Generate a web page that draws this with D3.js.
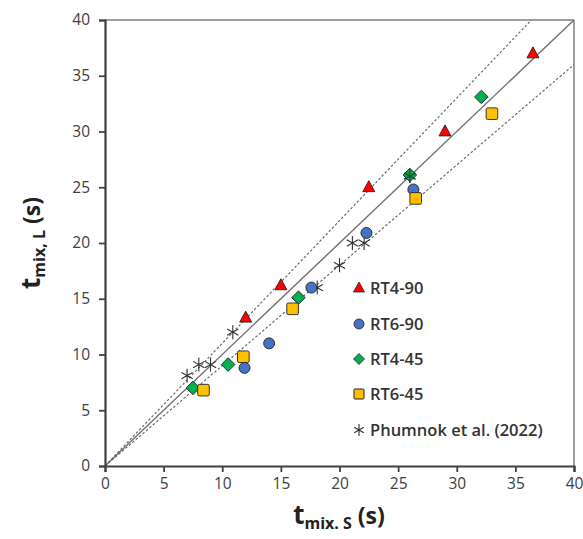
<!DOCTYPE html>
<html><head><meta charset="utf-8">
<script src="https://cdn.jsdelivr.net/npm/d3@7"></script>
<style>body{margin:0;background:#fff;} svg{display:block;}</style>
</head><body>
<svg id="chart" width="583" height="539"></svg>
<script>
const xTicks = [0,5,10,15,20,25,30,35,40];
const yTicks = [0,5,10,15,20,25,30,35,40];
const rt490 = [[12,13.3],[15,16.2],[22.5,25],[29,30],[36.5,37]];
const rt690 = [[11.9,8.8],[14,11],[17.6,16],[22.3,20.9],[26.3,24.8]];
const rt445 = [[7.5,7],[10.5,9.1],[16.5,15.1],[26,26.1],[32.1,33.1]];
const rt645 = [[8.4,6.8],[11.8,9.8],[16,14.1],[26.5,24],[33,31.6]];
const phumnok = [[7,8.1],[8,9.1],[9,9.1],[10.9,12],[18.1,16],[20,18],[21.1,20],[22.1,20],[26,26]];
const legendLabels = ["RT4-90","RT6-90","RT4-45","RT6-45","Phumnok et al. (2022)"];
const refSlopes = [1.1, 0.9];

const svg = d3.select("#chart");
const x = d3.scaleLinear().domain([0,40]).range([105,574]);
const y = d3.scaleLinear().domain([0,40]).range([466,20]);
const font = "'Open Sans', sans-serif";

// frame top/right
svg.append("line").attr("x1",x(0)).attr("x2",x(40)).attr("y1",y(40)).attr("y2",y(40)).attr("stroke","#808080").attr("stroke-width",1.5);
svg.append("line").attr("x1",x(40)).attr("x2",x(40)).attr("y1",y(0)).attr("y2",y(40)).attr("stroke","#808080").attr("stroke-width",1.5);

// reference lines
svg.append("line").attr("x1",x(0)).attr("y1",y(0)).attr("x2",x(40)).attr("y2",y(40)).attr("stroke","#707070").attr("stroke-width",1.4);
refSlopes.forEach(s=>{
  const xe = Math.min(40, 40/s);
  svg.append("line").attr("x1",x(0)).attr("y1",y(0)).attr("x2",x(xe)).attr("y2",y(xe*s))
    .attr("stroke","#606060").attr("stroke-width",1.1).attr("stroke-dasharray","2.5,2");
});

// axes
const xAxis = svg.append("g").attr("transform",`translate(0,${y(0)})`)
  .call(d3.axisBottom(x).tickValues(xTicks).tickSize(6).tickPadding(6).tickFormat(d3.format("d")));
const yAxis = svg.append("g").attr("transform",`translate(${x(0)},0)`)
  .call(d3.axisLeft(y).tickValues(yTicks).tickSize(6).tickPadding(9).tickFormat(d3.format("d")));
[xAxis,yAxis].forEach(g=>{
  g.select(".domain").attr("stroke","#404040").attr("stroke-width",2.2);
  g.selectAll(".tick line").attr("stroke","#404040").attr("stroke-width",1.8);
  g.selectAll(".tick text").attr("fill","#404040").style("font-family",font).style("font-size","15.5px");
});

// markers
const stroke = "#222";
function tri(cx,cy,w,h){ return `M${cx},${cy-h*0.6}L${cx+w/2},${cy+h*0.4}L${cx-w/2},${cy+h*0.4}Z`; }
function dia(cx,cy,s){ return `M${cx},${cy-s}L${cx+s},${cy}L${cx},${cy+s}L${cx-s},${cy}Z`; }
function star(cx,cy,s){ 
  let p="";
  p+=`M${cx},${cy-s}L${cx},${cy+s}`;
  const a=s*0.8, b=s*0.45;
  p+=`M${cx-a},${cy-b}L${cx+a},${cy+b}M${cx-a},${cy+b}L${cx+a},${cy-b}`;
  return p;
}
svg.append("g").selectAll("path").data(phumnok).join("path")
  .attr("d",d=>star(x(d[0]),y(d[1]),7)).attr("stroke","#303030").attr("stroke-width",1.1).attr("fill","none");
svg.append("g").selectAll("path").data(rt490).join("path")
  .attr("d",d=>tri(x(d[0]),y(d[1]),12,11)).attr("fill","#ff0000").attr("stroke",stroke).attr("stroke-width",0.9);
svg.append("g").selectAll("circle").data(rt690).join("circle")
  .attr("cx",d=>x(d[0])).attr("cy",d=>y(d[1])).attr("r",5.5).attr("fill","#4472c4").attr("stroke",stroke).attr("stroke-width",0.9);
svg.append("g").selectAll("path").data(rt445).join("path")
  .attr("d",d=>dia(x(d[0]),y(d[1]),6.8)).attr("fill","#00b050").attr("stroke",stroke).attr("stroke-width",0.9);
svg.append("g").selectAll("rect").data(rt645).join("rect")
  .attr("x",d=>x(d[0])-5.8).attr("y",d=>y(d[1])-5.8).attr("width",11.6).attr("height",11.6).attr("rx",1.5)
  .attr("fill","#ffc000").attr("stroke",stroke).attr("stroke-width",0.9);
// star over diamond at (26,26)
svg.append("g").selectAll("path").data(phumnok.filter(d=>d[0]===26)).join("path")
  .attr("d",d=>star(x(d[0]),y(d[1]),7)).attr("stroke","#303030").attr("stroke-width",1.1).attr("fill","none");

// legend
const lg = svg.append("g");
const ly = [288,324,359,394,430];
const lx = 359;
lg.append("path").attr("d",tri(lx,ly[0],11,10)).attr("fill","#ff0000").attr("stroke",stroke).attr("stroke-width",0.8);
lg.append("circle").attr("cx",lx).attr("cy",ly[1]).attr("r",5).attr("fill","#4472c4").attr("stroke",stroke).attr("stroke-width",0.8);
lg.append("path").attr("d",dia(lx,ly[2],5.5)).attr("fill","#00b050").attr("stroke",stroke).attr("stroke-width",0.8);
lg.append("rect").attr("x",lx-5).attr("y",ly[3]-5).attr("width",10).attr("height",10).attr("rx",1).attr("fill","#ffc000").attr("stroke",stroke).attr("stroke-width",1);
lg.append("path").attr("d",star(lx,ly[4],6)).attr("stroke","#303030").attr("stroke-width",1.1).attr("fill","none");
lg.selectAll("text").data(legendLabels).join("text")
  .attr("x",370).attr("y",(d,i)=>ly[i]).attr("dy","0.35em")
  .attr("fill","#333").style("font-family",font).style("font-size","16.5px").style("font-weight",600)
  .text(d=>d);

// axis titles
const xt = svg.append("text").attr("x",339).attr("y",524).attr("text-anchor","middle")
  .attr("fill","#222").style("font-family",font).style("font-weight",700);
xt.append("tspan").style("font-size","26px").text("t");
xt.append("tspan").style("font-size","16px").attr("dy",5).text("mix. S");
xt.append("tspan").style("font-size","23px").attr("dy",-5).text(" (s)");

const yt = svg.append("text").attr("transform",`translate(40,${y(20)}) rotate(-90)`).attr("text-anchor","middle")
  .attr("fill","#222").style("font-family",font).style("font-weight",700);
yt.append("tspan").style("font-size","26px").text("t");
yt.append("tspan").style("font-size","16px").attr("dy",5).text("mix, L");
yt.append("tspan").style("font-size","23px").attr("dy",-5).text(" (s)");
</script>
</body></html>
